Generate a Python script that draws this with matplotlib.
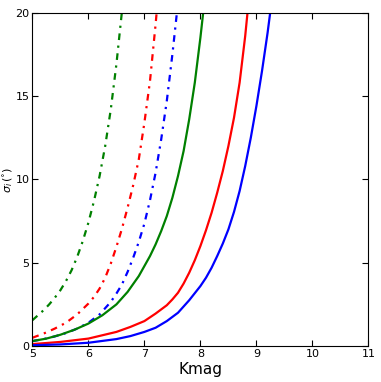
import matplotlib
matplotlib.use('Agg')
import matplotlib.pyplot as plt

# values (Kmag vs sigma_i in degrees)
k_gdd = [5.0, 5.1, 5.2, 5.3, 5.4, 5.5, 5.6, 5.7, 5.8, 5.9, 6.0, 6.1, 6.2, 6.3, 6.4, 6.5, 6.6, 6.65]
s_gdd = [1.55, 1.85, 2.15, 2.5, 2.9, 3.35, 3.9, 4.55, 5.35, 6.3, 7.4, 8.7, 10.2, 12.0, 14.2, 16.9, 20.1, 21.8]

k_rdd = [5.0, 5.2, 5.4, 5.6, 5.8, 6.0, 6.1, 6.2, 6.3, 6.4, 6.5, 6.6, 6.7, 6.8, 6.9, 7.0, 7.1, 7.2, 7.28]
s_rdd = [0.5, 0.75, 1.05, 1.4, 1.9, 2.55, 2.95, 3.45, 4.1, 4.95, 5.95, 7.05, 8.3, 9.65, 11.2, 13.4, 15.9, 19.3, 22.3]

k_bdd = [5.0, 5.2, 5.4, 5.6, 5.8, 6.0, 6.2, 6.4, 6.5, 6.6, 6.7, 6.8, 6.9, 7.0, 7.1, 7.2, 7.3, 7.4, 7.5, 7.6, 7.65]
s_bdd = [0.3, 0.42, 0.58, 0.78, 1.05, 1.4, 1.9, 2.65, 3.15, 3.7, 4.45, 5.3, 6.25, 7.35, 8.75, 10.4, 12.4, 14.7, 17.5, 20.6, 22.3]

k_g = [5.0, 5.25, 5.5, 5.75, 6.0, 6.25, 6.5, 6.7, 6.9, 7.0, 7.1, 7.2, 7.3, 7.4, 7.5, 7.6, 7.7, 7.8, 7.9, 8.0, 8.1]
s_g = [0.3, 0.45, 0.68, 0.98, 1.35, 1.85, 2.5, 3.25, 4.2, 4.8, 5.4, 6.1, 6.9, 7.8, 8.9, 10.2, 11.7, 13.6, 15.8, 18.5, 21.5]

k_r = [5.0, 5.5, 6.0, 6.5, 6.75, 7.0, 7.2, 7.4, 7.5, 7.6, 7.7, 7.8, 7.9, 8.0, 8.1, 8.2, 8.3, 8.4, 8.5, 8.6, 8.7, 8.8, 8.9]
s_r = [0.12, 0.25, 0.45, 0.85, 1.15, 1.5, 1.95, 2.45, 2.8, 3.2, 3.75, 4.4, 5.15, 6.0, 6.95, 8.0, 9.2, 10.5, 12.0, 13.7, 15.8, 18.6, 22.0]

k_b = [5.0, 5.5, 6.0, 6.5, 6.75, 7.0, 7.2, 7.4, 7.6, 7.8, 8.0, 8.1, 8.2, 8.3, 8.4, 8.5, 8.6, 8.7, 8.8, 8.9, 9.0, 9.1, 9.2, 9.3]
s_b = [0.05, 0.1, 0.2, 0.42, 0.6, 0.85, 1.1, 1.5, 2.0, 2.75, 3.6, 4.1, 4.7, 5.4, 6.15, 7.0, 8.05, 9.3, 10.8, 12.5, 14.4, 16.5, 18.8, 21.4]

fig = plt.figure(figsize=(3.81, 3.82), dpi=100, facecolor='white')
ax = fig.add_axes([0.085, 0.094, 0.882, 0.873])

dd = (3, 2.5, 1, 2.5)
ax.plot(k_gdd, s_gdd, color='g', ls='-.', dashes=dd, lw=1.6)
ax.plot(k_rdd, s_rdd, color='r', ls='-.', dashes=dd, lw=1.6)
ax.plot(k_bdd, s_bdd, color='b', ls='-.', dashes=dd, lw=1.6)
ax.plot(k_g, s_g, color='g', ls='-', lw=1.6)
ax.plot(k_r, s_r, color='r', ls='-', lw=1.6)
ax.plot(k_b, s_b, color='b', ls='-', lw=1.6)

ax.set_xlim(5, 11)
ax.set_ylim(0, 20)
ax.set_xticks(range(5, 12))
ax.set_yticks([0, 5, 10, 15, 20])
ax.tick_params(direction='in', top=True, right=True, labelsize=8, length=4, pad=2)
ax.set_xlabel('Kmag', fontsize=11, labelpad=2)
ax.set_ylabel(r'$\sigma_i\,(^{\circ})$', fontsize=8, labelpad=0)

fig.savefig('out.png', dpi=100, facecolor='white')
